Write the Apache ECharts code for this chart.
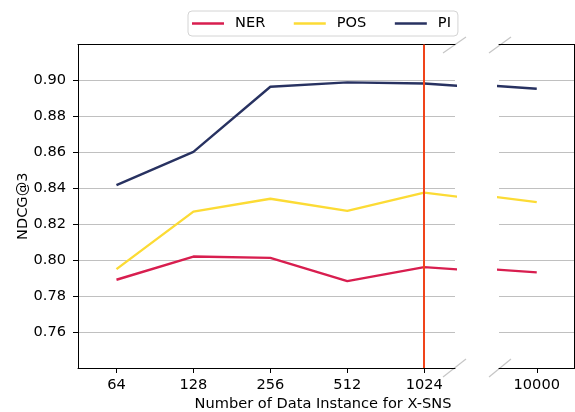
<!DOCTYPE html>
<html>
<head>
<meta charset="utf-8">
<script src="https://cdn.jsdelivr.net/npm/echarts@6/dist/echarts.min.js"></script>
<style>html,body{margin:0;padding:0;background:#fff}#c{width:575px;height:412px}</style>
</head>
<body>
<div id="c"></div>
<script>
var categories = ['64', '128', '256', '512', '1024', '10000'];
var xPositions = [0, 1, 2, 3, 4, 5];
var nerValues = [0.7891, 0.8020, 0.8013, 0.7883, 0.7961, 0.7932];
var posValues = [0.7950, 0.8270, 0.8342, 0.8274, 0.8376, 0.8323];
var piValues  = [0.8417, 0.8603, 0.8965, 0.8989, 0.8983, 0.8954];
var markerX = 4;

var FONT = 'DejaVu Sans';
var FS = 14.6;
var colors = { NER: '#d81e4f', POS: '#fcdb35', PI: '#283261' };

function pairs(vals) { return xPositions.map(function (x, i) { return [x, vals[i]]; }); }

var chart = echarts.init(document.getElementById('c'), null, { renderer: 'canvas' });

var yBase = {
  min: 0.74, max: 0.92, interval: 0.02,
  splitLine: { show: true, lineStyle: { color: '#c0c0c0', width: 1 } },
  axisLine: { show: true, onZero: false, lineStyle: { color: '#000', width: 1 } },
  axisTick: { show: true, length: 5, lineStyle: { color: '#000' } },
  axisLabel: { show: true, showMinLabel: false, showMaxLabel: false, fontFamily: FONT, fontSize: FS, color: '#000', margin: 12,
    formatter: function (v) { return v.toFixed(2); } }
};

function mkSeries(name, vals, gi, extra) {
  var s = {
    name: name, type: 'line', data: pairs(vals), xAxisIndex: gi * 2, yAxisIndex: gi,
    symbol: 'none', showSymbol: false, clip: true, animation: false,
    lineStyle: { color: colors[name], width: 2.4 }, itemStyle: { color: colors[name] }
  };
  if (extra) for (var k in extra) s[k] = extra[k];
  return s;
}

var option = {
  backgroundColor: '#fff',
  animation: false,
  grid: [
    { left: 78, right: 120, top: 44.5, bottom: 44, containLabel: false },
    { left: 499, right: 0.5, top: 44.5, bottom: 44, containLabel: false }
  ],
  legend: {
    data: ['NER', 'POS', 'PI'],
    left: 188, top: 11,
    icon: 'rect',
    itemWidth: 32, itemHeight: 2.5, itemGap: 28.5,
    padding: [5, 7, 5, 4],
    borderColor: '#d4d4d4', borderWidth: 1, borderRadius: 4,
    backgroundColor: '#fff',
    textStyle: { fontFamily: FONT, fontSize: FS, color: '#000', padding: [0, 0, 0, 6], lineHeight: 14 }
  },
  xAxis: [
    { type: 'value', gridIndex: 0, position: 'bottom', min: -0.5, max: 4.4,
      splitLine: { show: false },
      axisLine: { show: true, onZero: false, lineStyle: { color: '#000', width: 1 } },
      axisTick: { show: true, length: 5, customValues: xPositions.slice(0, 5), lineStyle: { color: '#000' } },
      axisLabel: { show: true, customValues: xPositions.slice(0, 5), fontFamily: FONT, fontSize: FS, color: '#000', margin: 10,
        formatter: function (v) { return categories[Math.round(v)]; } } },
    { type: 'value', gridIndex: 0, position: 'top', min: -0.5, max: 4.4,
      splitLine: { show: false }, axisTick: { show: false }, axisLabel: { show: false },
      axisLine: { show: true, onZero: false, lineStyle: { color: '#000', width: 1 } } },
    { type: 'value', gridIndex: 1, position: 'bottom', min: 4.5, max: 5.5,
      splitLine: { show: false },
      axisLine: { show: true, onZero: false, lineStyle: { color: '#000', width: 1 } },
      axisTick: { show: true, length: 5, customValues: [5], lineStyle: { color: '#000' } },
      axisLabel: { show: true, customValues: [5], fontFamily: FONT, fontSize: FS, color: '#000', margin: 10,
        formatter: function (v) { return categories[Math.round(v)]; } } },
    { type: 'value', gridIndex: 1, position: 'top', min: 4.5, max: 5.5,
      splitLine: { show: false }, axisTick: { show: false }, axisLabel: { show: false },
      axisLine: { show: true, onZero: false, lineStyle: { color: '#000', width: 1 } } }
  ],
  yAxis: [
    Object.assign({ type: 'value', gridIndex: 0, position: 'left',
      name: 'NDCG@3', nameLocation: 'middle', nameGap: 47, nameMoveOverlap: false,
      nameTextStyle: { fontFamily: FONT, fontSize: FS, color: '#000' } }, yBase),
    Object.assign({}, yBase, { type: 'value', gridIndex: 1, position: 'right',
      axisTick: { show: false }, axisLabel: { show: false } })
  ],
  series: [
    mkSeries('NER', nerValues, 0),
    mkSeries('POS', posValues, 0),
    mkSeries('PI', piValues, 0, {
      markLine: { silent: true, symbol: 'none', animation: false,
        label: { show: false },
        lineStyle: { color: '#f0441a', width: 2, type: 'solid' },
        data: [{ xAxis: markerX }] }
    }),
    mkSeries('NER', nerValues, 1),
    mkSeries('POS', posValues, 1),
    mkSeries('PI', piValues, 1)
  ],
  graphic: [
    { type: 'line', shape: { x1: 443, y1: 53, x2: 466, y2: 37 }, style: { stroke: '#c6c6c6', lineWidth: 1.2 }, silent: true },
    { type: 'line', shape: { x1: 489, y1: 53, x2: 511, y2: 37 }, style: { stroke: '#c6c6c6', lineWidth: 1.2 }, silent: true },
    { type: 'line', shape: { x1: 443, y1: 377, x2: 466, y2: 359 }, style: { stroke: '#c6c6c6', lineWidth: 1.2 }, silent: true },
    { type: 'line', shape: { x1: 489, y1: 377, x2: 511, y2: 359 }, style: { stroke: '#c6c6c6', lineWidth: 1.2 }, silent: true },
    { type: 'text', x: 323, y: 404, silent: true,
      style: { text: 'Number of Data Instance for X-SNS', font: FS + 'px "DejaVu Sans"', fill: '#000', textAlign: 'center', textVerticalAlign: 'middle' } }
  ]
};
chart.setOption(option);
</script>
</body>
</html>
